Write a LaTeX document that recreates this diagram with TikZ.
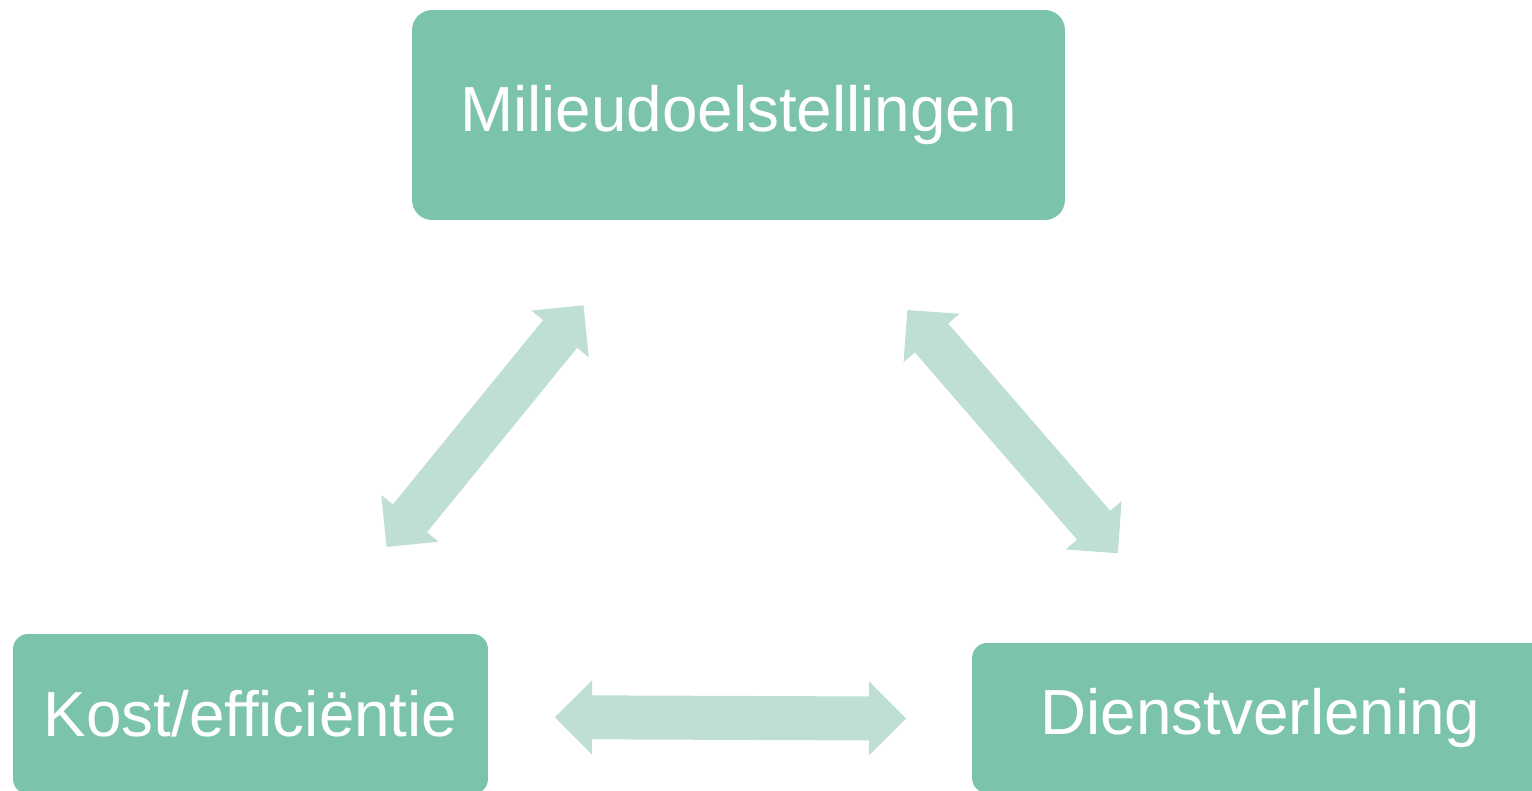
\documentclass[tikz,border=0pt]{standalone}
\usepackage{fontspec}
\setmainfont{Liberation Sans}
\usetikzlibrary{arrows.meta}

\definecolor{boxgreen}{HTML}{7CC4A9}
\definecolor{arrowgreen}{HTML}{BFDFD2}

\begin{document}
\begin{tikzpicture}[x=0.02cm,y=-0.02cm,
		box/.style={fill=boxgreen,text=white,rounded corners=0.3cm,inner sep=0pt,
			font=\fontsize{36.3}{44}\selectfont},
		tip/.tip={Triangle[length=0.74cm,width=1.48cm,line width=0pt]},
		link/.style={draw=arrowgreen,line width=0.88cm,tip-tip}]
		\useasboundingbox (0,0) rectangle (1532,791);

		\node[box,rounded corners=0.4cm,minimum width=13.06cm,minimum height=4.2cm] (goals) at (738.5,115) {Milieudoelstellingen};
		\node[box,minimum width=9.5cm,minimum height=3.2cm]   (cost)    at (250.5,714) {Kost/efficiëntie};
		\node[box,minimum width=11.54cm,minimum height=3cm]   (service) at (1260.5,718) {Dienstverlening};


		\path[link,shorten <=4.91cm,shorten >=4.31cm] (goals.center) -- (cost.center);
		\path[link,shorten <=5.16cm,shorten >=4.36cm] (goals.center) -- (service.center);
		\path[link,shorten <=6.09cm,shorten >=7.09cm,transform canvas={yshift=-0.04cm}] (cost.center) -- (service.center);
	\end{tikzpicture}
\end{document}
